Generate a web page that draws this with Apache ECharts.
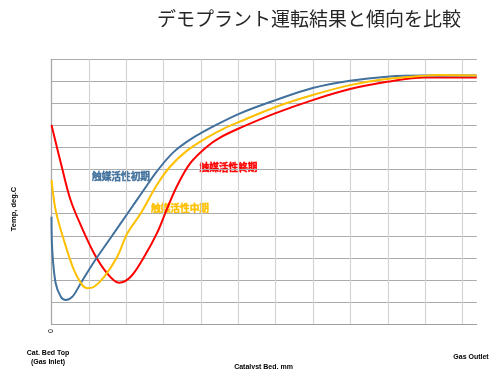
<!DOCTYPE html>
<html><head><meta charset="utf-8">
<script src="https://cdn.jsdelivr.net/npm/echarts@6/dist/echarts.min.js"></script>
<style>html,body{margin:0;padding:0;background:#fff}#c{width:491px;height:369px}</style>
</head><body><div id="c"></div>
<script>
// Catalyst bed position (grid units) and temperature (grid units)
const initialPos  = [0, 0.02, 0.11, 0.25, 0.38, 0.56, 0.78, 1.14, 1.58, 2.03, 2.46, 2.82, 3.26, 3.75, 4.38, 5.05, 6.0, 6.99, 7.99, 8.98, 9.99, 11.38];
const initialTemp = [4.86, 3.35, 1.86, 1.24, 1.09, 1.24, 1.84, 2.82, 3.90, 5.00, 6.05, 6.92, 7.78, 8.40, 9.00, 9.55, 10.15, 10.70, 11.03, 11.21, 11.26, 11.26];

const middlePos  = [0, 0.11, 0.33, 0.60, 0.82, 0.96, 1.14, 1.41, 1.76, 2.03, 2.39, 2.82, 3.17, 3.62, 4.16, 4.60, 5.05, 6.0, 6.99, 7.99, 8.98, 9.99, 10.40, 11.38];
const middleTemp = [6.53, 5.17, 3.81, 2.45, 1.77, 1.62, 1.69, 2.14, 3.05, 4.11, 5.02, 6.30, 7.13, 7.85, 8.45, 8.85, 9.18, 9.84, 10.38, 10.83, 11.11, 11.26, 11.29, 11.26];

const finalPos  = [0, 0.28, 0.51, 0.78, 1.14, 1.49, 1.81, 2.12, 2.48, 2.82, 3.08, 3.35, 3.71, 4.16, 4.51, 5.05, 6.0, 6.99, 7.99, 8.98, 9.99, 11.38];
const finalTemp = [9.02, 7.09, 5.62, 4.49, 3.20, 2.30, 1.87, 2.14, 3.05, 4.11, 5.17, 6.22, 7.28, 8.04, 8.45, 8.89, 9.56, 10.15, 10.65, 10.98, 11.18, 11.17];

const xMax = 11.38;
const yMax = 12;
const titleText = 'デモプラント運転結果と傾向を比較';
const seriesNames = ['触媒活性初期', '触媒活性中期', '触媒活性終期'];
const seriesColors = ['#41719C', '#FFC000', '#FF0000'];

function zip(xs, ys) { return xs.map((x, i) => [x, ys[i]]); }

const vColors = [];
for (let i = 0; i <= 12; i++) vColors.push(i === 12 ? 'rgba(0,0,0,0)' : '#d4d4d4');

const chart = echarts.init(document.getElementById('c'), null, {renderer: 'canvas'});
const lbl = {fontFamily: '"Liberation Sans", Arial, sans-serif', fontWeight: 'bold', fontSize: 7, fill: '#000'};
function cjkLabel(i, x, y) {
  return {type: 'text', x: x, y: y, style: {text: seriesNames[i], fill: seriesColors[i], stroke: seriesColors[i], lineWidth: 0.4,
    fontSize: 9.7, fontWeight: 'bold', fontFamily: '"Noto Sans CJK JP", sans-serif', textAlign: 'center', textVerticalAlign: 'middle'}};
}
chart.setOption({
  animation: false,
  title: {
    text: titleText, left: 309, top: 9, padding: 0, textAlign: 'center',
    textStyle: {fontFamily: '"Noto Sans CJK JP", sans-serif', fontWeight: 'normal', fontSize: 19, color: '#262626'}
  },
  grid: {left: 51.5, right: 14.3, top: 59.3, bottom: 45, containLabel: false},
  xAxis: {
    type: 'value', min: 0, max: xMax, interval: 1,
    axisLine: {show: true, lineStyle: {color: '#a0a0a0', width: 1.2}},
    axisTick: {show: false},
    splitLine: {show: true, lineStyle: {color: vColors, width: 1.2}},
    axisLabel: {show: true, rotate: 90, fontSize: 7, color: '#000', margin: 5,
      fontFamily: '"Liberation Sans", Arial, sans-serif',
      formatter: v => (v === 0 ? '0' : '')}
  },
  yAxis: {
    type: 'value', min: 0, max: yMax, interval: 1,
    axisLine: {show: true, lineStyle: {color: '#a8a8a8', width: 1.2}},
    axisTick: {show: false},
    axisLabel: {show: false},
    splitLine: {show: true, lineStyle: {color: '#ababab', width: 1.2}}
  },
  series: [
    {name: seriesNames[0], type: 'line', data: zip(initialPos, initialTemp), smooth: 0.35, showSymbol: false, lineStyle: {color: seriesColors[0], width: 2}, z: 3},
    {name: seriesNames[1], type: 'line', data: zip(middlePos, middleTemp), smooth: 0.35, showSymbol: false, lineStyle: {color: seriesColors[1], width: 2}, z: 4},
    {name: seriesNames[2], type: 'line', data: zip(finalPos, finalTemp), smooth: 0.35, showSymbol: false, lineStyle: {color: seriesColors[2], width: 2}, z: 2}
  ],
  graphic: [
    cjkLabel(0, 121, 176),
    cjkLabel(1, 180, 208.5),
    cjkLabel(2, 228.5, 167),
    {type: 'text', x: 14, y: 209, rotation: Math.PI / 2, style: Object.assign({}, lbl, {text: 'Temp, deg.C', fontSize: 7.5, textAlign: 'center', textVerticalAlign: 'middle'})},
    {type: 'text', x: 48, y: 353.5, style: Object.assign({}, lbl, {text: 'Cat. Bed Top', textAlign: 'center', textVerticalAlign: 'middle'})},
    {type: 'text', x: 48, y: 362, style: Object.assign({}, lbl, {text: '(Gas Inlet)', textAlign: 'center', textVerticalAlign: 'middle'})},
    {type: 'text', x: 263.5, y: 367, style: Object.assign({}, lbl, {text: 'Catalyst Bed, mm', textAlign: 'center', textVerticalAlign: 'middle'})},
    {type: 'text', x: 471, y: 357, style: Object.assign({}, lbl, {text: 'Gas Outlet', textAlign: 'center', textVerticalAlign: 'middle'})}
  ]
});
</script></body></html>
